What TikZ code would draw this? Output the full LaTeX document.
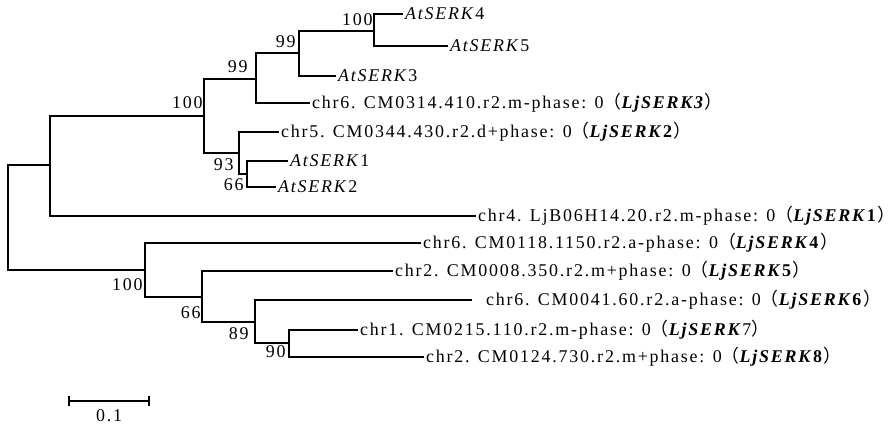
\documentclass[tikz,border=0pt]{standalone}
\usepackage{fontspec}
\setmainfont{Liberation Serif}[LetterSpace=10]
\newfontfamily\cjk{Noto Sans CJK SC}
\usepackage{tikz}
\usetikzlibrary{positioning,arrows.meta}

\newcommand{\atserk}[1]{\textit{AtSERK}#1}
\newcommand{\ljserk}[1]{{\cjk （}\textbf{\textit{LjSERK}#1}{\cjk ）}}

\tikzset{
	branch/.style={line width=0.95pt},
	leaf/.style={anchor=west,inner xsep=1pt,inner ysep=0pt},
	boot/.style={anchor=east,inner sep=0pt},
}

\begin{document}
\begin{tikzpicture}[x=0.02cm,y=-0.02cm,font=\fontsize{10.2}{12}\selectfont]
			
			\useasboundingbox (0,0) rectangle (895,427);
			
			\coordinate (root) at (8,217);
			\coordinate (nA) at (50,165);
			\coordinate (nB) at (145,270);
			\coordinate (n100) at (204,116);
			\coordinate (n99a) at (256,79);
			\coordinate (n99b) at (299,53);
			\coordinate (n100c) at (374,31);
			\coordinate (n93) at (239,153);
			\coordinate (n66a) at (247,174);
			\coordinate (n66b) at (202,297);
			\coordinate (n89) at (255,322);
			\coordinate (n90) at (289,343);
			
			\node[leaf] (at4) at (403,14){\atserk{4}};
			\node[leaf] (at5) at (448,46){\atserk{5}};
			\node[leaf] (at3) at (336,76){\atserk{3}};
			\node[leaf] (lj3) at (310,103){chr6. CM0314.410.r2.m-phase: 0{\cjk （}\textbf{\textit{LjSERK3}}{\cjk ）}};
			\node[leaf] (lj2) at (279,132){chr5. CM0344.430.r2.d+phase: 0\ljserk{2}};
			\node[leaf] (at1) at (288,161){\atserk{1}};
			\node[leaf] (at2) at (276,187){\atserk{2}};
			\node[leaf] (lj1) at (476,216){chr4. LjB06H14.20.r2.m-phase: 0\ljserk{1}};
			\node[leaf] (lj4) at (421,243){chr6. CM0118.1150.r2.a-phase: 0\ljserk{4}};
			\node[leaf] (lj5) at (393,271){chr2. CM0008.350.r2.m+phase: 0\ljserk{5}};
			\coordinate (tip6) at (472,300);
			\node[leaf] (lj6) at (484,300){chr6. CM0041.60.r2.a-phase: 0\ljserk{6}};
			\node[leaf] (lj7) at (358,330){chr1. CM0215.110.r2.m-phase: 0{\cjk （}\textbf{\textit{LjSERK}}7{\cjk ）}};
			\node[leaf] (lj8) at (424,357){chr2. CM0124.730.r2.m+phase: 0\ljserk{8}};
			
			\draw[branch](root)|-(nA);
			\draw[branch](root)|-(nB);
			\draw[branch](nA)|-(n100);
			\draw[branch](nA)|-(lj1.west);
			\draw[branch](n100)|-(n99a);
			\draw[branch](n100)|-(n93);
			\draw[branch](n99a)|-(n99b);
			\draw[branch](n99a)|-(lj3.west);
			\draw[branch](n99b)|-(n100c);
			\draw[branch](n99b)|-(at3.west);
			\draw[branch](n100c)|-(at4.west);
			\draw[branch](n100c)|-(at5.west);
			\draw[branch](n93)|-(lj2.west);
			\draw[branch](n93)|-(n66a);
			\draw[branch](n66a)|-(at1.west);
			\draw[branch](n66a)|-(at2.west);
			\draw[branch](nB)|-(lj4.west);
			\draw[branch](nB)|-(n66b);
			\draw[branch](n66b)|-(lj5.west);
			\draw[branch](n66b)|-(n89);
			\draw[branch](n89)|-(tip6);
			\draw[branch](n89)|-(n90);
			\draw[branch](n90)|-(lj7.west);
			\draw[branch](n90)|-(lj8.west);
			
			\foreach \x/\y/\v [count=\i] in {373/20/100,296/42/99,248/67/99,203/103/100,234/165/93,244/185/66,143/285/100,201/313/66,249/334/89,286/352/90}
			{
				\node[boot] (bs\i) at (\x,\y){\v};
			}
			
			\coordinate (sbl) at (68,401);
			\coordinate (sbr) at (150,401);
			\draw[branch,{Bar[width=6pt]}-{Bar[width=6pt]}](sbl)--(sbr);
			\node (sblab) at (109,416){0.1};
			
		\end{tikzpicture}
\end{document}
